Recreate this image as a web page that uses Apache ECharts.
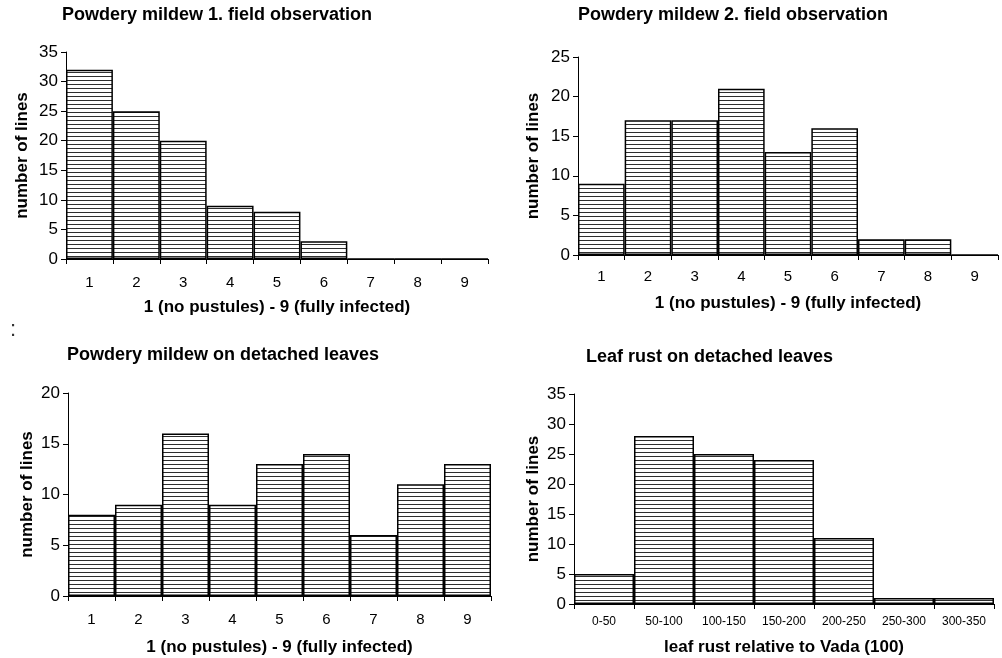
<!DOCTYPE html>
<html><head><meta charset="utf-8">
<script src="https://cdn.jsdelivr.net/npm/echarts@6/dist/echarts.min.js"></script>
<style>html,body{margin:0;padding:0;background:#fff}#c{width:1002px;height:658px}</style>
</head><body><div id="c"></div>
<script>
const scoreCats = ['1','2','3','4','5','6','7','8','9'];
const rustCats = ['0-50','50-100','100-150','150-200','200-250','250-300','300-350'];
const pm1Values = [32,25,20,9,8,3,0,0,0];
const pm2Values = [9,17,17,21,13,16,2,2,0];
const pmDetValues = [8,9,16,9,13,14,6,11,13];
const rustValues = [5,28,25,24,11,1,1];
const titles = ['Powdery mildew 1. field observation','Powdery mildew 2. field observation','Powdery mildew on detached leaves','Leaf rust on detached leaves'];
const xNames = ['1 (no pustules) - 9 (fully infected)','1 (no pustules) - 9 (fully infected)','1 (no pustules) - 9 (fully infected)','leaf rust relative to Vada (100)'];
const yName = 'number of lines';
const yMax = [35,25,20,35];

// hatch pattern
const pc = document.createElement('canvas');
pc.width = 8; pc.height = 4;
const g = pc.getContext('2d');
g.fillStyle = '#fff'; g.fillRect(0,0,8,4);
g.fillStyle = '#2e2e2e'; g.fillRect(0,0,8,1);

const font = 'Liberation Sans, Arial, sans-serif';
const grids = [
  {left:66, top:52, width:422, height:207},
  {left:578, top:57, width:420, height:198},
  {left:68, top:393, width:423, height:203},
  {left:574, top:394, width:420, height:210}
];
const titlePos = [{left:62,top:6},{left:578,top:6},{left:67,top:346},{left:586,top:348}];
const xLabelMargin = [16,14,16,12];
const xNameGap = [40,40,43,35];
const yNameGap = [35,36,32,32];
const cats = [scoreCats,scoreCats,scoreCats,rustCats];
const vals = [pm1Values,pm2Values,pmDetValues,rustValues];

const option = {
  animation:false,
  title: titles.map((t,i)=>({text:t,left:titlePos[i].left,top:titlePos[i].top,padding:0,
    textStyle:{fontFamily:font,fontSize:18,fontWeight:'bold',color:'#000'}})),
  grid: grids,
  xAxis: cats.map((c,i)=>({type:'category',gridIndex:i,data:c,
    name:xNames[i],nameLocation:'middle',nameGap:xNameGap[i],
    nameTextStyle:{fontFamily:font,fontSize:17,fontWeight:'bold',color:'#000'},
    axisLine:{lineStyle:{color:'#000',width:1}},
    axisTick:{show:true,length:5,lineStyle:{color:'#000'}},
    axisLabel:{fontFamily:font,fontSize:i===3?12:15,color:'#000',margin:xLabelMargin[i],interval:0},
    splitLine:{show:false}})),
  yAxis: yMax.map((m,i)=>({type:'value',gridIndex:i,min:0,max:m,interval:5,
    name:yName,nameLocation:'middle',nameGap:yNameGap[i],
    nameTextStyle:{fontFamily:font,fontSize:17,fontWeight:'bold',color:'#000'},
    axisLine:{show:true,lineStyle:{color:'#000',width:1}},
    axisTick:{show:true,length:5,lineStyle:{color:'#000'}},
    axisLabel:{fontFamily:font,fontSize:17,color:'#000',margin:8},
    splitLine:{show:false}})),
  series: vals.map((v,i)=>({type:'bar',xAxisIndex:i,yAxisIndex:i,data:v,
    barCategoryGap:'0%',
    itemStyle:{color:{image:pc,repeat:'repeat'},borderColor:'#000',borderWidth:1.5}})),
  graphic:[{type:'text',left:10,top:319,style:{text:':',fill:'#333',font:'22px '+font}}]
};
echarts.init(document.getElementById('c')).setOption(option);
</script></body></html>
